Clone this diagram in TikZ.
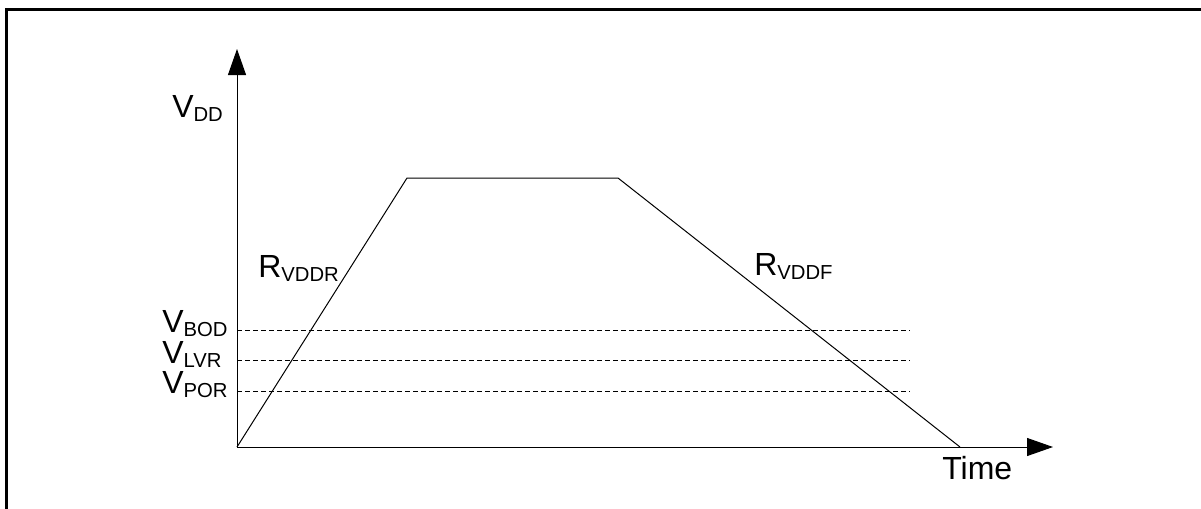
\documentclass[tikz,border=0pt]{standalone}
\usepackage{fontspec}
\setmainfont{Liberation Sans}
\usetikzlibrary{arrows.meta}
\newcommand{\sbs}[1]{\raisebox{-3.2pt}{\fontsize{15.2}{17}\selectfont #1}}
\tikzset{
  lbl/.style={anchor=base west, inner sep=0pt, font=\fontsize{24}{28}\selectfont},
  axis/.style={line width=0.75pt, -{Triangle[length=19.5pt,width=13.5pt]}},
  ramp/.style={line width=0.75pt},
  level/.style={line width=0.75pt, dash pattern=on 3.75pt off 2.25pt}
}
\begin{document}
\begin{tikzpicture}[x=0.75pt,y=0.75pt,yscale=-1,xscale=1]
				\useasboundingbox (0,0) rectangle (1201,508);
				% frame
				\draw[line width=2.25pt] (6,510) -- (6,9) -- (1203,9);
				% axes
				\coordinate (o) at (237,447);
				\coordinate (ytip) at (237,49);
				\coordinate (xtip) at (1053,447);
				\draw[axis] (o) -- (ytip);
				\draw[axis] (o) -- (xtip);
				% supply curve
				\coordinate (riseend) at (407,178);
				\coordinate (fallstart) at (618,178);
				\coordinate (fallend) at (960,447);
				\draw[ramp] (o) -- (riseend) -- (fallstart) -- (fallend);
				% thresholds
				\coordinate (bodl) at (237,330);
				\coordinate (bodr) at (910,330);
				\coordinate (lvrl) at (237,360.5);
				\coordinate (lvrr) at (910,360.5);
				\coordinate (porl) at (237,391);
				\coordinate (porr) at (910,391);
				\draw[level] (bodl) -- (bodr);
				\draw[level] (lvrl) -- (lvrr);
				\draw[level] (porl) -- (porr);
				% labels
				\node (vdd) at (172,117) [lbl] {V\sbs{DD}};
				\node (rvddr) at (258,277) [lbl] {R\sbs{VDDR}};
				\node (rvddf) at (754,275) [lbl] {R\sbs{VDDF}};
				\node (vbod) at (162,332) [lbl] {V\sbs{BOD}};
				\node (vlvr) at (162,363) [lbl] {V\sbs{LVR}};
				\node (vpor) at (162,393) [lbl] {V\sbs{POR}};
				\node (time) at (942,479) [lbl] {Time};
\end{tikzpicture}
\end{document}
